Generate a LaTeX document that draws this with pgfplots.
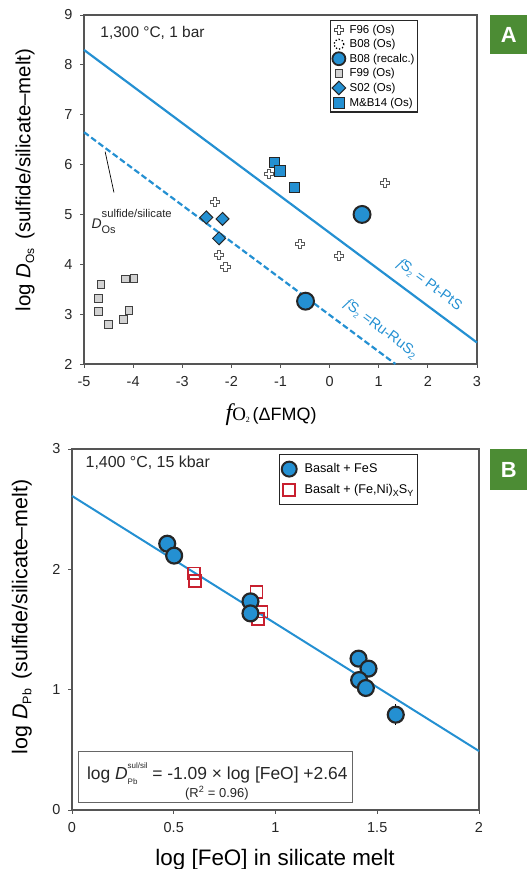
\documentclass[border=0pt]{standalone}
\usepackage{fontspec}
\setmainfont{Liberation Sans}
\newfontfamily\serif{Liberation Serif}
\usepackage{amsmath}
\usepackage{pgfplots}
\pgfplotsset{compat=1.18}

\definecolor{dblue}{HTML}{2490D2}
\definecolor{dred}{HTML}{C8202F}
\definecolor{lgray}{HTML}{D2D2D2}
\definecolor{tag}{HTML}{4C8C34}
\definecolor{frame}{HTML}{555555}
\newcommand\fs[1]{\fontsize{#1}{#1}\selectfont}

% white plus with grey outline
\pgfdeclareplotmark{fatplus}{%
  \pgfpathmoveto{\pgfqpoint{-0.35\pgfplotmarksize}{\pgfplotmarksize}}%
  \pgfpathlineto{\pgfqpoint{0.35\pgfplotmarksize}{\pgfplotmarksize}}%
  \pgfpathlineto{\pgfqpoint{0.35\pgfplotmarksize}{0.35\pgfplotmarksize}}%
  \pgfpathlineto{\pgfqpoint{\pgfplotmarksize}{0.35\pgfplotmarksize}}%
  \pgfpathlineto{\pgfqpoint{\pgfplotmarksize}{-0.35\pgfplotmarksize}}%
  \pgfpathlineto{\pgfqpoint{0.35\pgfplotmarksize}{-0.35\pgfplotmarksize}}%
  \pgfpathlineto{\pgfqpoint{0.35\pgfplotmarksize}{-\pgfplotmarksize}}%
  \pgfpathlineto{\pgfqpoint{-0.35\pgfplotmarksize}{-\pgfplotmarksize}}%
  \pgfpathlineto{\pgfqpoint{-0.35\pgfplotmarksize}{-0.35\pgfplotmarksize}}%
  \pgfpathlineto{\pgfqpoint{-\pgfplotmarksize}{-0.35\pgfplotmarksize}}%
  \pgfpathlineto{\pgfqpoint{-\pgfplotmarksize}{0.35\pgfplotmarksize}}%
  \pgfpathlineto{\pgfqpoint{-0.35\pgfplotmarksize}{0.35\pgfplotmarksize}}%
  \pgfpathclose
  \pgfusepathqfillstroke}

\pgfplotsset{
  panel/.style={scale only axis, clip=false,
    axis line style={frame, line width=1.3pt},
    tick style={frame, line width=1pt},
    tick align=outside, major tick length=4pt,
    xtick pos=bottom, ytick pos=left,
    ticklabel style={font=\fs{14.5}, text=black!85},
    xticklabel style={yshift=-5bp}, yticklabel style={xshift=-4bp},
    legend cell align=left},
  lm/.style={only marks,
    legend image code/.code={\draw[mark repeat=2,mark phase=2,##1]
      plot coordinates {(0pt,0pt) (7pt,0pt) (14pt,0pt)};}},
}

\begin{document}
\begin{tikzpicture}
\path[use as bounding box] (0,-869bp) rectangle (527bp,0);

% ---------- panel A ----------
\begin{axis}[panel,
  at={(84bp,-364bp)}, anchor=south west, width=393bp, height=349bp,
  xmin=-5, xmax=3, ymin=2, ymax=9,
  xtick={-5,...,3}, xticklabels={-5,-4,-3,-2,-1,0,1,2,3},
  ytick={2,...,9}, yticklabels={2,3,4,5,6,7,8,9},
  xlabel={{\serif\fs{24}\itshape f}{\serif\fs{19}O}\raisebox{-0.3ex}{\serif\fs{8}2} \fs{18}(ΔFMQ)},
  xlabel style={at={(axis description cs:0.476,-0.146)}, anchor=center},
  ylabel={\fs{20.5}log \textit{D}\raisebox{-0.35ex}{\fs{12}Os}\, (sulfide/silicate–melt)},
  ylabel style={at={(axis description cs:-0.15,0.527)}, anchor=center},
  legend style={at={(0.626,0.986)}, anchor=north west, font=\fs{11.5},
    draw=black!85, line width=1.2pt, inner xsep=1.5pt, inner ysep=3pt,
    row sep=1.6pt, column sep=2.5pt, nodes={inner sep=1.5pt}},
]
\addlegendimage{lm, mark=fatplus, mark size=4.4, mark options={fill=white, draw=black!70, line width=0.8pt}}
\addlegendentry{F96 (Os)}
\addlegendimage{lm, mark=o, mark size=5, mark options={draw=black, line width=1.3pt, dotted}}
\addlegendentry{B08 (Os)}
\addlegendimage{lm, mark=*, mark size=6.5, mark options={fill=dblue, draw=black!85, line width=1.8pt}}
\addlegendentry{B08 (recalc.)}
\addlegendimage{lm, mark=square*, mark size=3.8, mark options={fill=lgray, draw=black!75, line width=0.8pt}}
\addlegendentry{F99 (Os)}
\addlegendimage{lm, mark=square*, mark size=4.8, mark options={rotate=45, fill=dblue, draw=black!85, line width=1pt}}
\addlegendentry{S02 (Os)}
\addlegendimage{lm, mark=square*, mark size=5.5, mark options={fill=dblue, draw=black!85, line width=1pt}}
\addlegendentry{M\&B14 (Os)}

% buffer lines
\addplot[dblue, line width=2.2pt, forget plot] coordinates {(-5,8.30) (3,2.43)};
\addplot[dblue, line width=2.2pt, dash pattern=on 6pt off 3pt, forget plot]
  coordinates {(-5,6.65) (1.34,2.0)};

% F99
\addplot[only marks, mark=square*, mark size=3.8,
  mark options={fill=lgray, draw=black!75, line width=0.8pt}, forget plot]
  coordinates {(-4.66,3.60) (-4.71,3.32) (-4.71,3.06) (-4.50,2.80)
               (-4.16,3.71) (-3.98,3.72) (-4.09,3.08) (-4.20,2.89)};
% S02
\addplot[only marks, mark=square*, mark size=4.6,
  mark options={rotate=45, fill=dblue, draw=black!85, line width=1pt}, forget plot]
  coordinates {(-2.51,4.94) (-2.18,4.91) (-2.25,4.52)};
% M&B14
\addplot[only marks, mark=square*, mark size=5.2,
  mark options={fill=dblue, draw=black!85, line width=1pt}, forget plot]
  coordinates {(-1.12,6.04) (-1.01,5.87) (-0.71,5.54)};
% F96
\addplot[only marks, mark=fatplus, mark size=4.6,
  mark options={fill=white, draw=black!65, line width=0.8pt}, forget plot]
  coordinates {(-1.23,5.82) (1.13,5.64) (-2.34,5.25) (-0.60,4.41)
               (0.19,4.17) (-2.25,4.19) (-2.12,3.95)};
% B08 recalculated
\addplot[only marks, mark=*, mark size=8.5,
  mark options={fill=dblue, draw=black!85, line width=2pt}, forget plot]
  coordinates {(0.66,5.00) (-0.49,3.26)};

\node[anchor=west, font=\fs{15.5}, text=black!85] at (rel axis cs:0.033,0.948) {1,300 °C, 1 bar};
\node[dblue, rotate=-36.7, font=\fs{14.5}] at (axis cs:2.03,3.58)
  {{\serif\itshape f}S\raisebox{-0.4ex}{\fs{8}2} = Pt-PtS};
\node[dblue, rotate=-36.7, font=\fs{14.5}] at (axis cs:1.04,2.70)
  {{\serif\itshape f}S\raisebox{-0.4ex}{\fs{8}2} =Ru-RuS\raisebox{-0.4ex}{\fs{10}2}};
\draw[black, line width=0.7pt] (axis cs:-4.57,6.26) -- (axis cs:-4.39,5.44);
\node[anchor=base west, inner sep=0pt, font=\fs{14}, text=black!85] at (axis cs:-4.85,4.72)
  {\textit{D}\rlap{\raisebox{11bp}{\fs{11.3}sulfide/silicate}}\raisebox{-5bp}{\fs{11}Os}};
\end{axis}

% ---------- panel B ----------
\begin{axis}[panel,
  at={(72bp,-810bp)}, anchor=south west, width=407bp, height=361bp,
  xmin=0, xmax=2, ymin=0, ymax=3,
  xtick={0,0.5,1,1.5,2}, xticklabels={0,0.5,1,1.5,2},
  ytick={0,1,2,3}, yticklabels={0,1,2,3},
  xlabel={\fs{22.5}log [FeO] in silicate melt},
  xlabel style={at={(axis description cs:0.499,-0.139)}, anchor=center},
  ylabel={\fs{21.5}log \textit{D}\raisebox{-0.35ex}{\fs{12.5}Pb}\, (sulfide/silicate–melt)},
  ylabel style={at={(axis description cs:-0.123,0.535)}, anchor=center},
  legend style={at={(0.509,0.986)}, anchor=north west, font=\fs{12.7},
    draw=black!85, line width=1.2pt, inner xsep=2pt, inner ysep=7pt,
    row sep=6pt, column sep=6pt, nodes={inner sep=2pt}},
]
\addlegendimage{lm, mark=*, mark size=7.5, mark options={fill=dblue, draw=black!85, line width=2pt}}
\addlegendentry{Basalt + FeS}
\addlegendimage{lm, mark=square, mark size=6, mark options={draw=dred, line width=1.6pt}}
\addlegendentry{Basalt + (Fe,Ni)\raisebox{-0.4ex}{\fs{9}X}S\raisebox{-0.4ex}{\fs{9}Y}}

\addplot[dblue, line width=2pt, forget plot] coordinates {(0,2.61) (2,0.49)};
\addplot[only marks, mark=none, black, forget plot,
  error bars/.cd, y dir=both, y explicit, error mark=none,
  error bar style={line width=1.3pt, black}]
  coordinates {(1.591,0.792) +- (0,0.085)};
\addplot[only marks, mark=square, mark size=6,
  mark options={draw=dred, line width=1.6pt}, forget plot]
  coordinates {(0.600,1.967) (0.604,1.903) (0.906,1.814) (0.932,1.648) (0.913,1.587)};
\addplot[only marks, mark=*, mark size=8,
  mark options={fill=dblue, draw=black!85, line width=2.2pt}, forget plot]
  coordinates {(0.468,2.213) (0.502,2.114) (0.877,1.734) (0.877,1.634)
               (1.408,1.258) (1.457,1.175) (1.411,1.080) (1.444,1.014) (1.591,0.792)};

\node[anchor=west, font=\fs{16}, text=black!85] at (rel axis cs:0.025,0.961) {1,400 °C, 15 kbar};
\draw[black!60, line width=1pt] (rel axis cs:0.017,0.161) rectangle (rel axis cs:0.690,0.022);
\node[font=\fs{17.5}, text=black!85] at (rel axis cs:0.357,0.100)
  {log \textit{D}\rlap{\raisebox{1.1ex}{\fs{8}sul/sil}}\raisebox{-0.6ex}{\fs{8}Pb}\hspace{10bp} = -1.09 × log [FeO] +2.64};
\node[font=\fs{13}, text=black!85] at (rel axis cs:0.356,0.047) {(R\textsuperscript{2} = 0.96)};
\end{axis}

% panel tags
\node[fill=tag, text=white, font=\fs{22}\bfseries, minimum width=37bp, minimum height=39bp,
  inner sep=0pt, anchor=north west] at (490bp,-15bp) {A};
\node[fill=tag, text=white, font=\fs{22}\bfseries, minimum width=37bp, minimum height=41bp,
  inner sep=0pt, anchor=north west] at (490bp,-449bp) {B};
\end{tikzpicture}
\end{document}
